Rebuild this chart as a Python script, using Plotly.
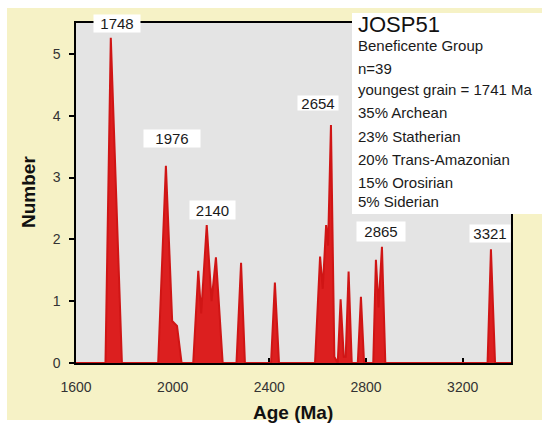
import plotly.graph_objects as go

# ---- data ----
ages = [1600, 1722, 1744, 1760, 1790,
        1940, 1972, 1998, 2018, 2037,
        2085, 2106, 2118, 2141, 2161, 2179, 2207,
        2264, 2283, 2299,
        2407, 2423, 2440,
        2589, 2610, 2621, 2635, 2643, 2655, 2669, 2683, 2695, 2708, 2716, 2728, 2741,
        2766, 2779, 2792,
        2830, 2841, 2852, 2866, 2880,
        3303, 3317, 3334, 3400]
number = [0, 0, 5.26, 3.5, 0,
          0, 3.19, 0.68, 0.6, 0,
          0, 1.49, 0.8, 2.23, 1.0, 1.71, 0,
          0, 1.62, 0,
          0, 1.30, 0,
          0, 1.72, 1.2, 2.23, 1.9, 3.85, 0.1, 0, 1.03, 0.1, 0.1, 1.48, 0,
          0, 1.07, 0,
          0, 1.67, 0.9, 1.88, 0,
          0, 1.84, 0, 0]

peak_labels = ["1748", "1976", "2140", "2654", "2865", "3321"]
info_title = "JOSP51"
info_lines = ["Beneficente Group", "n=39", "youngest grain = 1741 Ma",
              "35% Archean", "23% Statherian", "20% Trans-Amazonian",
              "15% Orosirian", "5% Siderian"]
x_ticks = [1600, 2000, 2400, 2800, 3200]
y_ticks = [0, 1, 2, 3, 4, 5]

# ---- layout helpers (pixel -> paper) ----
W, H = 542, 426
L, R, T, B = 76, 31, 23, 63
PW, PH = W - L - R, H - T - B


def px(x):
    return (x - L) / PW


def py(y):
    return (H - B - y) / PH


FONT = "Arial, Liberation Sans, sans-serif"

fig = go.Figure()
fig.add_trace(go.Scatter(
    x=ages, y=number, mode="lines", fill="tozeroy",
    fillcolor="#dc1f1f", line=dict(color="#d01515", width=2),
    cliponaxis=False, hoverinfo="skip", showlegend=False))

shapes = [
    # yellow panel (page is white)
    dict(type="rect", xref="paper", yref="paper", x0=px(7), x1=px(W + 10), y0=py(420), y1=py(8),
         fillcolor="#f6f2c6", line_width=0, layer="below"),
    # grey plotting area
    dict(type="rect", xref="paper", yref="paper", x0=0, x1=1, y0=0, y1=1,
         fillcolor="#e4e4e4", line_width=0, layer="below"),
    # info box
    dict(type="rect", xref="paper", yref="paper", x0=px(352), x1=px(W + 20), y0=py(214), y1=py(13),
         fillcolor="white", line_width=0, layer="above"),
]

annotations = []
# peak label boxes: (cx, cy, w, h)
label_pos = [(117, 23, 46, 17), (172, 138, 56, 17), (212, 210, 45, 18),
             (318, 103, 40, 14), (381, 231, 48, 19), (490, 233, 40, 17)]
for txt, (cx, cy, w, h) in zip(peak_labels, label_pos):
    annotations.append(dict(
        text=txt, xref="paper", yref="paper", x=px(cx), y=py(cy),
        xanchor="center", yanchor="middle", showarrow=False,
        bgcolor="white", width=w, height=h, borderpad=0,
        font=dict(family=FONT, size=15, color="#1a1a1a")))

annotations.append(dict(
    text=info_title, xref="paper", yref="paper", x=px(356), y=py(25),
    xanchor="left", yanchor="middle", showarrow=False,
    font=dict(family=FONT, size=22, color="#111")))
line_y = [46, 68, 90, 113, 136, 159, 182, 201]
for txt, yy in zip(info_lines, line_y):
    annotations.append(dict(
        text=txt, xref="paper", yref="paper", x=px(356), y=py(yy),
        xanchor="left", yanchor="middle", showarrow=False,
        font=dict(family=FONT, size=15, color="#1a1a1a")))

# axis titles
annotations.append(dict(
    text="<b>Age (Ma)</b>", xref="paper", yref="paper", x=px(293), y=py(412),
    xanchor="center", yanchor="middle", showarrow=False,
    font=dict(family=FONT, size=19, color="#111")))
annotations.append(dict(
    text="<b>Number</b>", xref="paper", yref="paper", x=px(28), y=py(192),
    xanchor="center", yanchor="middle", showarrow=False, textangle=-90,
    font=dict(family=FONT, size=19, color="#111")))

fig.update_layout(
    width=W, height=H,
    margin=dict(l=L, r=R, t=T, b=B),
    paper_bgcolor="white", plot_bgcolor="rgba(0,0,0,0)",
    shapes=shapes, annotations=annotations,
    xaxis=dict(range=[1600, 3400], tickvals=x_ticks, ticks="inside", ticklen=5,
               tickwidth=1.5, tickcolor="black", showgrid=False, zeroline=False,
               showline=True, linecolor="black", linewidth=1.5, mirror=True,
               layer="below traces", ticklabelstandoff=10,
               tickfont=dict(family=FONT, size=14, color="#333")),
    yaxis=dict(range=[0, 5.5], tickvals=y_ticks, ticks="outside", ticklen=5,
               tickwidth=1.5, tickcolor="black", showgrid=False, zeroline=False,
               showline=True, linecolor="black", linewidth=1.5, mirror=True,
               ticklabelstandoff=6,
               tickfont=dict(family=FONT, size=14, color="#333")),
)

fig.write_html("out.html", config={"displayModeBar": False},
               post_script="document.body.style.margin='0';document.body.style.overflow='hidden';")
